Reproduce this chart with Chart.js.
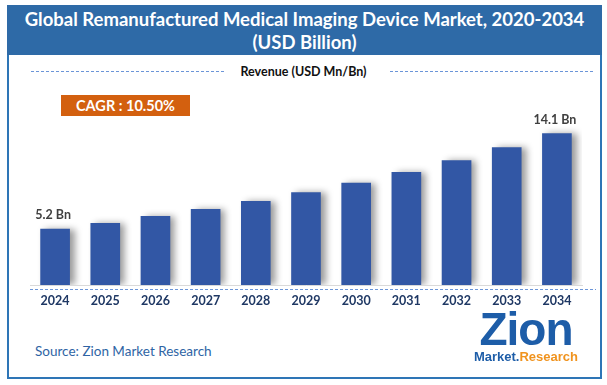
<!DOCTYPE html>
<html>
<head>
<meta charset="utf-8">
<script src="https://cdn.jsdelivr.net/npm/chart.js@4.4.1/dist/chart.umd.min.js"></script>
<style>
  html, body { margin: 0; padding: 0; background: #fff; }
  body { width: 607px; height: 385px; position: relative; overflow: hidden; font-family: Lato, "Open Sans", sans-serif; }
  .frame { position: absolute; left: 7px; top: 5px; width: 591px; height: 370px; border: 2px solid #2e75b6; }
  .title { position: absolute; left: 7px; top: 5px; width: 595px; height: 50px; background: #2e6aa7;
           color: #fff; font-weight: bold; font-size: 18.5px; line-height: 23px; text-align: center; padding-top: 3px; box-sizing: border-box; }
  .sub { position: absolute; left: 0; width: 607px; top: 64px; text-align: center; font-size: 12.5px; font-weight: bold; color: #111; }
  .cagr { position: absolute; left: 61px; top: 95px; width: 129px; height: 21px; background: #d3600f; color: #fff;
          font-weight: bold; font-size: 14.5px; line-height: 21px; text-align: center; }
  .source { position: absolute; left: 35px; top: 343px; font-size: 13.5px; color: #2e64a4; }
  .logo { position: absolute; left: 470px; top: 307px; width: 112px; text-align: center; }
  .logo .zion { font-family: "Liberation Sans", Arial, sans-serif; font-weight: bold; font-size: 46px; line-height: 45px; color: #1d5da8; letter-spacing: -1px; }
  .logo .mr { font-family: "Liberation Sans", Arial, sans-serif; font-weight: bold; font-size: 13px; line-height: 14px; margin-top: -2px; }
  #wrap { position: absolute; left: 0; top: 0; width: 607px; height: 320px; }
</style>
</head>
<body>
<div class="frame"></div>
<div class="title">Global Remanufactured Medical Imaging Device Market, 2020-2034<br>(USD Billion)</div>
<div class="sub">Revenue (USD Mn/Bn)</div>
<div class="cagr">CAGR : 10.50%</div>
<div id="wrap"><canvas id="chart"></canvas></div>
<div class="source">Source: Zion Market Research</div>
<div class="logo">
  <div class="zion">Zion</div>
  <div class="mr"><span style="color:#1d5da8">Market.</span><span style="color:#f0931e">Research</span></div>
</div>
<script>
  const years = ['2024', '2025', '2026', '2027', '2028', '2029', '2030', '2031', '2032', '2033', '2034'];
  const revenue = [5.2, 5.75, 6.4, 7.05, 7.8, 8.6, 9.5, 10.5, 11.6, 12.8, 14.1];
  const valueLabels = ['5.2 Bn', '', '', '', '', '', '', '', '', '', '14.1 Bn'];

  // sombra das barras
  const barShadow = {
    id: 'barShadow',
    beforeDatasetsDraw(chart) {
      const ctx = chart.ctx;
      ctx.save();
      ctx.shadowColor = 'rgba(0,0,0,0.4)';
      ctx.shadowBlur = 7;
      ctx.shadowOffsetX = 5;
      ctx.shadowOffsetY = 0;
    },
    afterDatasetsDraw(chart) {
      chart.ctx.restore();
    }
  };

  // rótulos de valor + linhas tracejadas
  const extras = {
    id: 'extras',
    afterDraw(chart) {
      const ctx = chart.ctx;
      const meta = chart.getDatasetMeta(0);
      ctx.save();
      ctx.font = 'bold 12.5px Lato, sans-serif';
      ctx.fillStyle = '#404040';
      ctx.textAlign = 'center';
      ctx.textBaseline = 'middle';
      meta.data.forEach((bar, i) => {
        if (valueLabels[i]) ctx.fillText(valueLabels[i], bar.x - 2, bar.y - 14);
      });
      ctx.strokeStyle = '#6b95d8';
      ctx.lineWidth = 1;
      ctx.setLineDash([3, 2]);
      ctx.beginPath();
      ctx.moveTo(31, 71.5); ctx.lineTo(226, 71.5);
      ctx.moveTo(390, 71.5); ctx.lineTo(594, 71.5);
      ctx.moveTo(30, 289.5); ctx.lineTo(596, 289.5);
      ctx.stroke();
      ctx.restore();
    }
  };

  new Chart(document.getElementById('chart'), {
    type: 'bar',
    data: {
      labels: years,
      datasets: [{
        data: revenue,
        backgroundColor: '#3257a5',
        barThickness: 29
      }]
    },
    options: {
      responsive: true,
      maintainAspectRatio: false,
      animation: false,
      layout: { padding: { left: 30, right: 25, top: 124, bottom: 0 } },
      plugins: { legend: { display: false }, tooltip: { enabled: false } },
      scales: {
        x: {
          grid: { display: false, drawTicks: false },
          border: { display: true, color: '#d9d9d9', width: 1 },
          ticks: { padding: 8, color: '#1f3864', font: { family: 'Lato', weight: 'bold', size: 12.5 } },
          afterFit(scale) { scale.height = 35; }
        },
        y: {
          display: false,
          min: 0,
          max: 15
        }
      }
    },
    plugins: [barShadow, extras]
  });
</script>
</body>
</html>
